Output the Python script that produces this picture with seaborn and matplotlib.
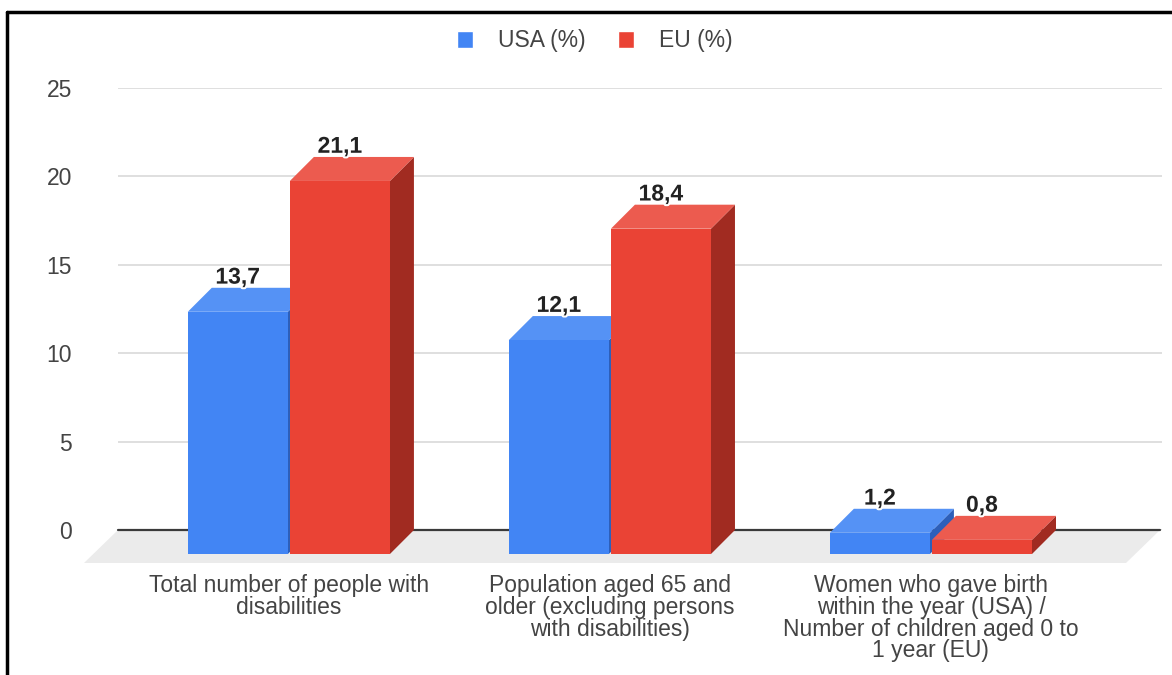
import numpy as np
import pandas as pd
import seaborn as sns
import matplotlib.pyplot as plt
import matplotlib.patheffects as pe
from matplotlib.patches import Polygon
from matplotlib.lines import Line2D

# data
categories = [
    "Total number of people with\ndisabilities",
    "Population aged 65 and\nolder (excluding persons\nwith disabilities)",
    "Women who gave birth\nwithin the year (USA) /\nNumber of children aged 0 to\n1 year (EU)",
]
series = ["USA (%)", "EU (%)"]
usa_values = [13.7, 12.1, 1.2]
eu_values = [21.1, 18.4, 0.8]
y_ticks = [0, 5, 10, 15, 20, 25]

front_colors = ["#4285F4", "#EA4335"]
top_colors = ["#5592F5", "#EC5B4F"]
side_colors = ["#2D5FBA", "#A12B21"]

df = pd.DataFrame({
    "category": categories * 2,
    "series": [series[0]] * len(categories) + [series[1]] * len(categories),
    "value": usa_values + eu_values,
})

sns.set_style("white")
plt.rcParams["font.family"] = ["Liberation Sans", "DejaVu Sans"]

fig = plt.figure(figsize=(11.72, 6.75), dpi=100)
ax = fig.add_axes([118 / 1172, (675 - 530) / 675, (1162 - 118) / 1172, 442 / 675])

sns.barplot(data=df, x="category", y="value", hue="series", palette=front_colors,
            width=0.636, gap=0.02, saturation=1, ax=ax)

ax.set_xlim(-0.607, 2.645)
ax.set_ylim(0, 25)

# pixel -> data scale, for the fake 3D depth
p0 = ax.transData.transform((0, 0))
p1 = ax.transData.transform((1, 1))
sx, sy = p1 - p0
ddx, ddy = 24 / sx, 24 / sy

# floor + zero line
fx0, fx1 = ax.get_xlim()
floor = Polygon([(fx0, 0), (fx1 - 2 / sx, 0), (fx1 - 36 / sx, -33 / sy), (fx0 - 34 / sx, -33 / sy)],
                closed=True, facecolor="#ebebeb", edgecolor="none", zorder=1, clip_on=False)
ax.add_patch(floor)
ax.plot([fx0, fx1 - 2 / sx], [0, 0], color="#3a3a3a", lw=1.6, zorder=2, clip_on=False)

for k, cont in enumerate(ax.containers):
    z = 3 + k
    for p in cont.patches:
        x0, w, h = p.get_x(), p.get_width(), p.get_height()
        side = Polygon([(x0 + w - ddx, -ddy), (x0 + w, 0), (x0 + w, h), (x0 + w - ddx, h - ddy)],
                       closed=True, facecolor=side_colors[k], edgecolor="none", zorder=z, clip_on=False)
        top = Polygon([(x0 - ddx, h - ddy), (x0 + w - ddx, h - ddy), (x0 + w, h), (x0, h)],
                      closed=True, facecolor=top_colors[k], edgecolor="none", zorder=z + 0.1, clip_on=False)
        ax.add_patch(side)
        ax.add_patch(top)
        p.set_x(x0 - ddx)
        p.set_y(-ddy)
        p.set_linewidth(0)
        p.set_zorder(z + 0.2)
        p.set_clip_on(False)
        ax.annotate(f"{h:.1f}".replace(".", ","), xy=(x0 + w / 2 - ddx, h), xytext=(0, 3),
                    textcoords="offset points", ha="center", va="baseline",
                    fontsize=16.5, fontweight="bold", color="#222222", zorder=10,
                    annotation_clip=False,
                    path_effects=[pe.withStroke(linewidth=3, foreground="white")])

# axes styling
for s in ax.spines.values():
    s.set_visible(False)
ax.yaxis.grid(True, color="#d9d9d9", lw=1.2)
ax.set_axisbelow(True)
ax.set_yticks(y_ticks)
ax.tick_params(axis="y", length=0, pad=33, labelsize=16.5, labelcolor="#444444")
ax.set_xticks(np.arange(len(categories)) - ddx, categories)
ax.tick_params(axis="x", length=0, pad=32, labelsize=16.5, labelcolor="#444444")
for t in ax.get_xticklabels():
    t.set_linespacing(0.92)
ax.set_xlabel("")
ax.set_ylabel("")

handles, labels = ax.get_legend_handles_labels()
ax.get_legend().remove()
fig.legend(handles, labels, loc="center", bbox_to_anchor=(595 / 1172, 1 - 41 / 675), ncol=2,
           frameon=False, fontsize=16.5, labelcolor="#444444", handlelength=0.7,
           handleheight=0.7, handletextpad=1.1, columnspacing=1.4)

# frame lines from the screenshot crop
fig.add_artist(Line2D([7 / 1172, 7 / 1172], [0, 1 - 12 / 675], color="black", lw=2.5,
                      transform=fig.transFigure))
fig.add_artist(Line2D([7 / 1172, 1], [1 - 12 / 675, 1 - 12 / 675], color="black", lw=2.5,
                      transform=fig.transFigure))

fig.savefig("out.png", dpi=100)
